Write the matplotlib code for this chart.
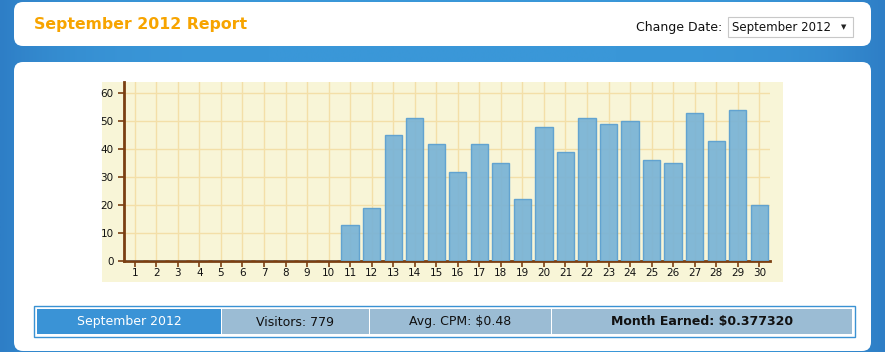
import numpy as np
import matplotlib.pyplot as plt
from matplotlib.patches import FancyBboxPatch, Rectangle
from matplotlib.colors import LinearSegmentedColormap

# daily visitors, September 2012
days = list(range(1, 31))
visitors = [0, 0, 0, 0, 0, 0, 0, 0, 0, 0,
            13, 19, 45, 51, 42, 32, 42, 35, 22, 48,
            39, 51, 49, 50, 36, 35, 53, 43, 54, 20]
y_ticks = [0, 10, 20, 30, 40, 50, 60]

title = 'September 2012 Report'
month_label = 'September 2012'
summary = ['September 2012', 'Visitors: 779', 'Avg. CPM: $0.48', 'Month Earned: $0.377320']

W, H = 885, 352
fig = plt.figure(figsize=(W / 100, H / 100), dpi=100)
fig.patch.set_facecolor('#3a92d3')

# background layer in pixel coordinates
bg = fig.add_axes([0, 0, 1, 1])
bg.set_xlim(0, W)
bg.set_ylim(H, 0)
bg.axis('off')

# blue page background, darker only near the sides
grad = np.abs(np.linspace(-1, 1, 400))[None, :] ** 6
page = LinearSegmentedColormap.from_list('page', ['#3a97d8', '#2e7ec6'])
bg.imshow(grad, cmap=page, extent=(0, W, H, 0), aspect='auto', zorder=0)

# white panels
bg.add_patch(FancyBboxPatch((14, 2), 857, 44, boxstyle='round,pad=0,rounding_size=9',
                            fc='white', ec='none', zorder=1))
bg.add_patch(FancyBboxPatch((14, 62), 857, 289, boxstyle='round,pad=0,rounding_size=9',
                            fc='white', ec='none', zorder=1))

# header
bg.text(34, 25, title, color='#f7a400', fontsize=11.3, fontweight='bold', va='center', ha='left', zorder=2)
bg.text(722, 27, 'Change Date:', color='#111111', fontsize=9, va='center', ha='right', zorder=2)
bg.add_patch(Rectangle((728, 17), 125, 20, fc='white', ec='#c8c8c8', lw=0.8, zorder=2))
bg.text(732, 27, month_label, color='#111111', fontsize=8.5, va='center', ha='left', zorder=3)
bg.text(844, 27.5, '\u25bc', color='#222222', fontsize=5, va='center', ha='center', zorder=3)

# chart background
bg.add_patch(Rectangle((102, 82), 681, 200, fc='#f8f5d7', ec='none', zorder=2))

# summary table
bg.add_patch(Rectangle((34, 306), 821, 31, fc='white', ec='#3a92d3', lw=1, zorder=2))
cells = [(37, 221), (222, 369), (370, 551), (552, 852)]
for i, ((x0, x1), txt) in enumerate(zip(cells, summary)):
    fc = '#3a93d6' if i == 0 else '#9bbcd4'
    bg.add_patch(Rectangle((x0, 309), x1 - x0, 25, fc=fc, ec='none', zorder=3))
    bg.text((x0 + x1) / 2, 322, txt, ha='center', va='center', fontsize=9,
            color='white' if i == 0 else '#111111',
            fontweight='bold' if i == 3 else 'normal', zorder=4)

# bar chart
ax = fig.add_axes([124 / W, 1 - 261 / H, (770 - 124) / W, (261 - 82) / H])
ax.patch.set_alpha(0)
ax.bar(days, visitors, width=0.8, color='#78b3d6', edgecolor='#5a9fd0', linewidth=1,
       alpha=0.92, zorder=3)
ax.set_xlim(0.5, 30.5)
ax.set_ylim(0, 64)
ax.set_xticks(days)
ax.set_yticks(y_ticks)
ax.grid(True, color='#f3dfa8', linewidth=1, zorder=0)
ax.set_axisbelow(True)
for s in ['top', 'right']:
    ax.spines[s].set_visible(False)
for s in ['left', 'bottom']:
    ax.spines[s].set_color('#7a3f12')
    ax.spines[s].set_linewidth(2)
ax.tick_params(colors='#7a3f12', labelcolor='#111111', labelsize=7.5, length=4, width=1.2)
ax.tick_params(axis='x', pad=1)

fig.savefig('out.png', dpi=100, facecolor=fig.get_facecolor())
